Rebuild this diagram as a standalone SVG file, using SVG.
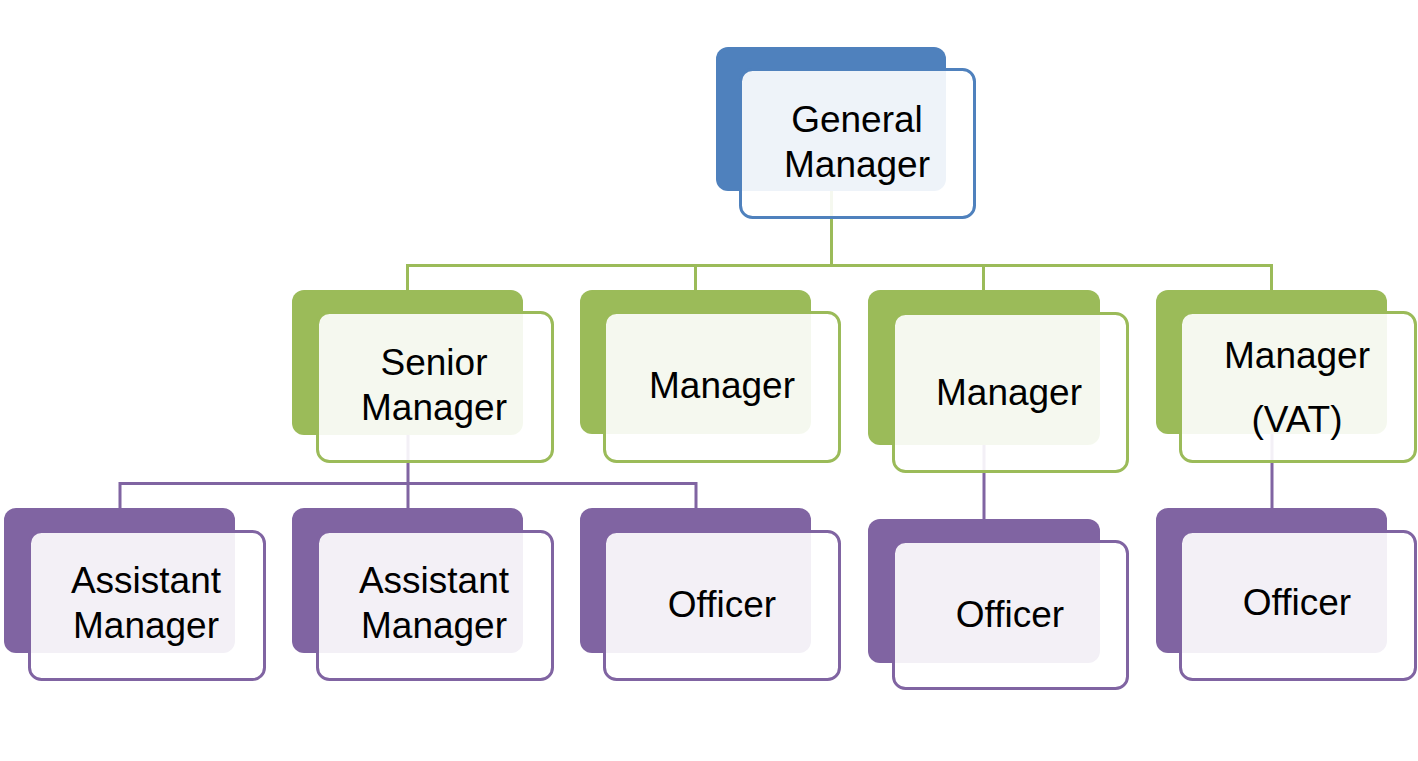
<svg xmlns="http://www.w3.org/2000/svg" width="1418" height="761" viewBox="0 0 1418 761">
<style>
.bb{fill:#4F81BD}.bg{fill:#9BBB59}.bp{fill:#8064A2}
.f{fill:#FFFFFF;fill-opacity:0.9;stroke-width:3}
.fb{stroke:#4F81BD}.fg{stroke:#9BBB59}.fp{stroke:#8064A2}
.cg{stroke:#9BBB59;stroke-width:3;fill:none}
.cp{stroke:#8064A2;stroke-width:3;fill:none}
text{font-family:"Liberation Sans",Arial,sans-serif;font-size:37px;fill:#000;text-anchor:middle}
</style>
<rect width="1418" height="761" fill="#FFFFFF"/>
<g id="connectors">
<path class="cg" d="M831.5 190V265.5M407.5 290V265.5H1271.5V290M695.5 265.5V290M983.5 265.5V290"/>
<path class="cp" d="M120 508V483.5H696V508M408 434V508M984 445V519M1272 434V508"/>
</g>
<g id="n-gm">
<rect class="bb" x="716" y="47" width="230" height="144" rx="12"/>
<rect class="f fb" x="740.5" y="69.5" width="234" height="148" rx="12"/>
<text x="857" y="132">General</text><text x="857" y="177">Manager</text>
</g>
<g id="n-sm">
<rect class="bg" x="292" y="290" width="231" height="145" rx="12"/>
<rect class="f fg" x="317.5" y="312.5" width="235" height="149" rx="12"/>
<text x="434" y="375">Senior</text><text x="434" y="420">Manager</text>
</g>
<g id="n-m2">
<rect class="bg" x="580" y="290" width="231" height="144" rx="12"/>
<rect class="f fg" x="604.5" y="312.5" width="235" height="149" rx="12"/>
<text x="722" y="398">Manager</text>
</g>
<g id="n-m3">
<rect class="bg" x="868" y="290" width="232" height="155" rx="12"/>
<rect class="f fg" x="893.5" y="313.5" width="234" height="158" rx="12"/>
<text x="1009" y="405">Manager</text>
</g>
<g id="n-vat">
<rect class="bg" x="1156" y="290" width="231" height="144" rx="12"/>
<rect class="f fg" x="1180.5" y="312.5" width="235" height="149" rx="12"/>
<text x="1297" y="368">Manager</text><text x="1297" y="432">(VAT)</text>
</g>
<g id="n-am1">
<rect class="bp" x="4" y="508" width="231" height="145" rx="12"/>
<rect class="f fp" x="29.5" y="531.5" width="235" height="148" rx="12"/>
<text x="146" y="593">Assistant</text><text x="146" y="638">Manager</text>
</g>
<g id="n-am2">
<rect class="bp" x="292" y="508" width="231" height="145" rx="12"/>
<rect class="f fp" x="317.5" y="531.5" width="235" height="148" rx="12"/>
<text x="434" y="593">Assistant</text><text x="434" y="638">Manager</text>
</g>
<g id="n-of1">
<rect class="bp" x="580" y="508" width="231" height="145" rx="12"/>
<rect class="f fp" x="604.5" y="531.5" width="235" height="148" rx="12"/>
<text x="722" y="617">Officer</text>
</g>
<g id="n-of2">
<rect class="bp" x="868" y="519" width="232" height="144" rx="12"/>
<rect class="f fp" x="893.5" y="541.5" width="234" height="147" rx="12"/>
<text x="1010" y="627">Officer</text>
</g>
<g id="n-of3">
<rect class="bp" x="1156" y="508" width="231" height="145" rx="12"/>
<rect class="f fp" x="1180.5" y="531.5" width="235" height="148" rx="12"/>
<text x="1297" y="615">Officer</text>
</g>
</svg>
